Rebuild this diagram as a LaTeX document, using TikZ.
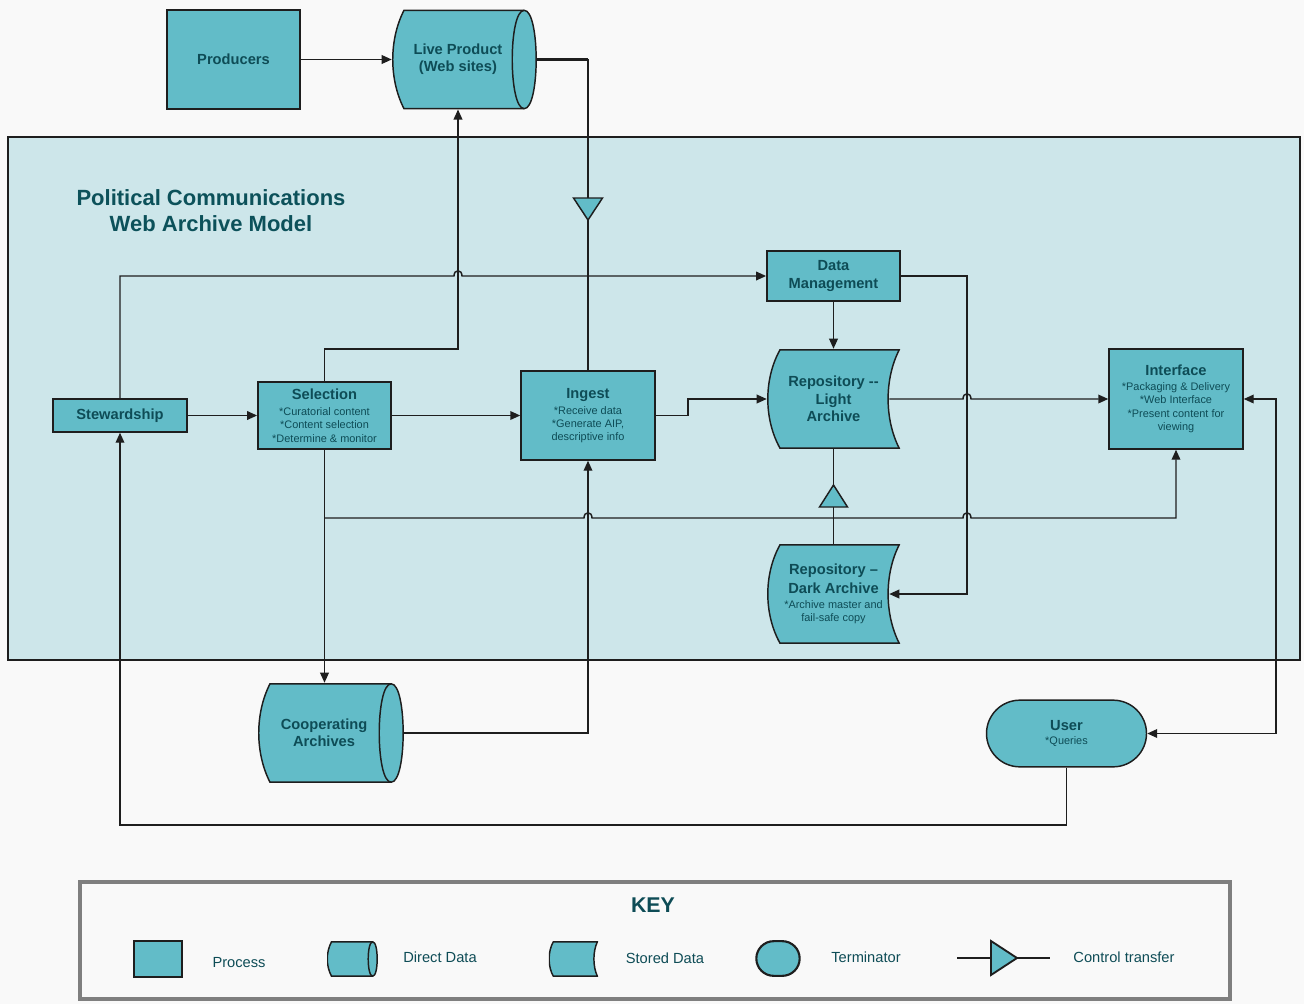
\documentclass[tikz,border=0pt]{standalone}
\usepackage{fontspec}
\setmainfont{Liberation Sans}
\usetikzlibrary{arrows.meta,shapes.misc}
\definecolor{paper}{HTML}{F9F9F9}
\definecolor{panel}{HTML}{CDE6EA}
\definecolor{boxfill}{HTML}{62BCC8}
\definecolor{ink}{HTML}{0E4C56}
\definecolor{wire}{HTML}{1E1E1E}
\definecolor{keyframe}{HTML}{7F7F7F}
\newcommand\boxtitle[1]{{\bfseries\fontsize{11}{13}\selectfont #1}}
\begin{document}
\begin{tikzpicture}[x=0.75pt,y=-0.75pt,
  every node/.style={text=ink, align=center, inner sep=1pt},
  wire/.style={draw=wire, line width=1.1pt},
  flow/.style={wire, -{Triangle[length=7.5pt,width=6.5pt]}},
  twoway/.style={wire, {Triangle[length=7.5pt,width=6.5pt]}-{Triangle[length=7.5pt,width=6.5pt]}},
  boxed/.style={draw=wire, line width=1.1pt, fill=boxfill},
  hdfont/.style={font=\bfseries\fontsize{11}{13}\selectfont},
  notefont/.style={font=\fontsize{8.2}{10}\selectfont},
  process/.style={boxed, rectangle, minimum width=100pt, minimum height=#1},
  direct/.style={rectangle, hdfont,
    path picture={\filldraw[boxed]
      ([shift={(#1,0.8)}]path picture bounding box.north west)
      .. controls ([shift={(-0.25*#1,2.5*#1)}]path picture bounding box.north west)
      and ([shift={(-0.25*#1,-2.5*#1)}]path picture bounding box.south west) ..
      ([shift={(#1,-0.8)}]path picture bounding box.south west)
      -- ([shift={(-#1-0.8,-0.8)}]path picture bounding box.south east)
      .. controls ([shift={(0.33*#1-0.8,-0.8)}]path picture bounding box.south east)
      and ([shift={(0.33*#1-0.8,0.8)}]path picture bounding box.north east) ..
      ([shift={(-#1-0.8,0.8)}]path picture bounding box.north east) -- cycle;
      \draw[boxed, fill=none] ([shift={(-#1-0.8,0.8)}]path picture bounding box.north east)
      .. controls ([shift={(-2.33*#1-0.8,0.8)}]path picture bounding box.north east)
      and ([shift={(-2.33*#1-0.8,-0.8)}]path picture bounding box.south east) ..
      ([shift={(-#1-0.8,-0.8)}]path picture bounding box.south east);}},
  stored/.style={rectangle, minimum width=99.75pt, minimum height=75pt, hdfont,
    path picture={\filldraw[boxed]
      ([shift={(#1,0.8)}]path picture bounding box.north west)
      .. controls ([shift={(-0.25*#1,2.3*#1)}]path picture bounding box.north west)
      and ([shift={(-0.25*#1,-2.3*#1)}]path picture bounding box.south west) ..
      ([shift={(#1,-0.8)}]path picture bounding box.south west)
      -- ([shift={(-0.8,-0.8)}]path picture bounding box.south east)
      .. controls ([shift={(-1.2*#1,-2.3*#1)}]path picture bounding box.south east)
      and ([shift={(-1.2*#1,2.3*#1)}]path picture bounding box.north east) ..
      ([shift={(-0.8,0.8)}]path picture bounding box.north east) -- cycle;}},
  terminal/.style={boxed, rounded rectangle, minimum width=122pt, minimum height=50pt}]
  \useasboundingbox (0,0) rectangle (1304,1004);
  \fill[paper] (0,0) rectangle (1304,1004);
  \filldraw[fill=panel, draw=wire, line width=0.8pt] (8,137) rectangle (1300,660);
  \filldraw[fill=paper, draw=keyframe, line width=3.6pt] (80,882) rectangle (1230,999);

  \node[font=\bfseries\fontsize{16.5}{20}\selectfont, text=ink!90!teal] (heading) at (211,210.5) {Political Communications\\Web Archive Model};

  % processes and data
  \node[process=74pt, hdfont] (producers) at (233.5,59.5) {Producers};
  \node[direct=12, minimum width=108.75pt, minimum height=75pt,
    label={[hdfont, xshift=-4.9pt]center:{Live Product\\(Web sites)}}] (live) at (464.5,59.5) {};
  \node[process=24.75pt, minimum width=100.5pt, hdfont] (steward) at (120,415.5) {Stewardship};
  \node[process=50pt, notefont] (selection) at (324.5,415.5) {\boxtitle{Selection}\\[2pt]*Curatorial content\\*Content selection\\*Determine \& monitor};
  \node[process=66.75pt, minimum width=100.5pt, notefont] (ingest) at (588,415.5) {\boxtitle{Ingest}\\[2pt]*Receive data\\*Generate AIP,\\descriptive info};
  \node[process=37.5pt, hdfont] (datamgmt) at (833.5,276) {Data\\Management};
  \node[stored=13] (light) at (833.5,399) {Repository -{}-\\Light\\Archive};
  \node[process=75pt, minimum width=100.5pt, notefont] (interface) at (1176,399) {\boxtitle{Interface}\\[1pt]*Packaging \& Delivery\\*Web Interface\\*Present content for\\viewing};
  \node[stored=13, notefont] (dark) at (833.5,594) {\boxtitle{Repository --}\\[3pt]\boxtitle{Dark Archive}\\[1pt]*Archive master and\\fail-safe copy};
  \node[direct=12, minimum width=109.5pt, minimum height=75pt,
    label={[hdfont, xshift=-5.2pt]center:{Cooperating\\Archives}}] (coop) at (331,733) {};
  \node[terminal, notefont] (user) at (1066.5,733.5) {\boxtitle{User}\\*Queries};

  \coordinate (livein) at (458,109.5);
  \coordinate (split) at (324.5,518);

  % connectors
  \draw[flow] (producers.east) -- (live.west);
  \draw[wire] (live.east) -| (ingest.north);
  \draw[wire, line width=2.3pt] (live.east) -- (588,59.5);
  \draw[flow] (selection.north) |- (458,349) -- (livein);
  \draw[flow] (steward.north) |- (454,276) .. controls (454,269) and (462,269) .. (462,276) -- (datamgmt.west);
  \draw[flow] (steward.east) -- (selection.west);
  \draw[flow] (selection.east) -- (ingest.west);
  \draw[flow] (ingest.east) -- (688,415.5) |- (light.west);
  \draw[flow] (datamgmt.south) -- (light.north);
  \draw[flow] (datamgmt.east) -- (967,276) |- ([shift={(-11,0)}]dark.east);
  \draw[flow] ([shift={(-11,0)}]light.east) -- (963,399) .. controls (963,392) and (971,392) .. (971,399) -- (interface.west);
  \draw[flow] (selection.south) -- (selection.south |- coop.north);
  \draw[flow] (split) -- (584,518) .. controls (584,511) and (592,511) .. (592,518) -- (963,518) .. controls (963,511) and (971,511) .. (971,518) -| (interface.south);
  \draw[flow] (coop.east) -| (ingest.south);
  \draw[wire] (dark.north) -- (light.south);
  \draw[flow] (user.south) -- (1066.5,825) -| (steward.south);
  \draw[twoway] (interface.east) -- (1276,399) |- (user.east);

  % control transfer marks
  \filldraw[boxed] (573.5,198) -- (602.5,198) -- (588,220) -- cycle;
  \filldraw[boxed] (819.5,507) -- (847.5,507) -- (833.5,485) -- cycle;

  % key
  \node[font=\bfseries\fontsize{16}{18}\selectfont] (keytitle) at (653,905) {KEY};
  \node[process=27pt, minimum width=36pt, line width=1.6pt] (keyproc) at (158,959) {};
  \node[direct=4.5, minimum width=38.25pt, minimum height=27pt] (keydirect) at (352.5,959) {};
  \node[stored=4.5, minimum width=37pt, minimum height=27pt] (keystored) at (573.5,959) {};
  \node[boxed, rounded rectangle, minimum width=34.5pt, minimum height=26pt, line width=1.6pt] (keyterm) at (778,958.5) {};
  \coordinate (keyfrom) at (957,958);
  \coordinate (keyto) at (1050,958);
  \draw[wire, line width=1.4pt] (keyfrom) -- (keyto);
  \filldraw[boxed, line width=1.4pt] (991,941) -- (1017,958) -- (991,975) -- cycle;
  \foreach \x/\y/\t in {239/963/Process,440/957/Direct Data,665/958/Stored Data,866/957/Terminator,1124/957/Control transfer}
    \node[font=\fontsize{11}{13}\selectfont] (key\x) at (\x,\y) {\t};
\end{tikzpicture}
\end{document}
